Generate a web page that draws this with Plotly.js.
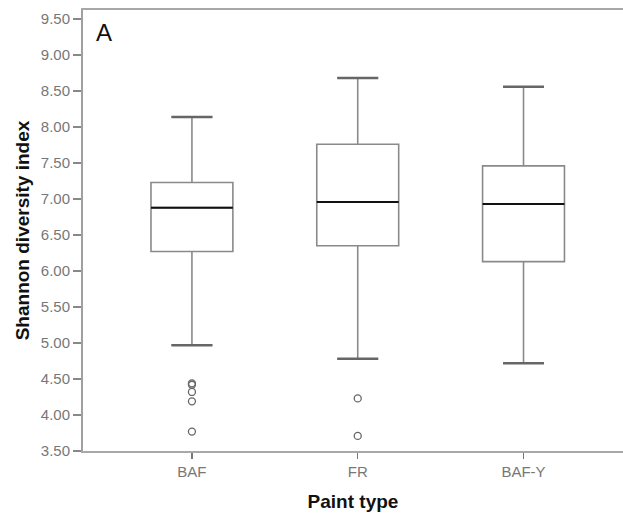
<!DOCTYPE html>
<html>
<head>
<meta charset="utf-8">
<script src="https://cdn.plot.ly/plotly-3.0.1.min.js"></script>
<style>html,body{margin:0;padding:0;background:#fff;}#chart{width:623px;height:527px;}</style>
</head>
<body>
<div id="chart"></div>
<script>
// Data
const categories = ["BAF", "FR", "BAF-Y"];
const positions = [0, 1, 2];
const lowerWhisker = [4.97, 4.78, 4.72];
const q1 = [6.27, 6.35, 6.13];
const median = [6.88, 6.96, 6.93];
const q3 = [7.23, 7.76, 7.46];
const upperWhisker = [8.14, 8.68, 8.56];
const outliersBAF = [4.44, 4.42, 4.32, 4.19, 3.77];
const outliersFR = [4.23, 3.71];
const outliersBAFY = [];
const yTicks = [3.5, 4.0, 4.5, 5.0, 5.5, 6.0, 6.5, 7.0, 7.5, 8.0, 8.5, 9.0, 9.5];

const boxW = 0.494;
const capW = boxW * 0.5;

const font = "Liberation Sans, Arial, sans-serif";
const grey = "#8a8a8a";

const boxTrace = {
  type: "box",
  x: positions,
  q1: q1, median: median, q3: q3,
  lowerfence: lowerWhisker, upperfence: upperWhisker,
  width: boxW,
  whiskerwidth: 0.5,
  boxpoints: false,
  fillcolor: "#ffffff",
  line: {color: grey, width: 1.6},
  hoverinfo: "skip",
  showlegend: false
};

function segs(vals, half) {
  const xs = [], ys = [];
  vals.forEach((v, i) => {
    xs.push(positions[i] - half, positions[i] + half, null);
    ys.push(v, v, null);
  });
  return {xs, ys};
}

const med = segs(median, boxW / 2);
const medianTrace = {
  type: "scatter", mode: "lines", x: med.xs, y: med.ys,
  line: {color: "#111", width: 2}, hoverinfo: "skip", showlegend: false
};

const capsU = segs(upperWhisker, capW / 2);
const capsL = segs(lowerWhisker, capW / 2);
const capTrace = {
  type: "scatter", mode: "lines",
  x: capsU.xs.concat(capsL.xs), y: capsU.ys.concat(capsL.ys),
  line: {color: "#666", width: 2.5}, hoverinfo: "skip", showlegend: false
};

const outX = [], outY = [];
[outliersBAF, outliersFR, outliersBAFY].forEach((arr, i) => {
  arr.forEach(v => { outX.push(positions[i]); outY.push(v); });
});
const outlierTrace = {
  type: "scatter", mode: "markers", x: outX, y: outY,
  marker: {symbol: "circle-open", size: 7, color: "#666", line: {width: 1.3, color: "#666"}},
  hoverinfo: "skip", showlegend: false
};

const layout = {
  width: 623, height: 527,
  margin: {l: 83, r: 0, t: 10, b: 76},
  paper_bgcolor: "#fff", plot_bgcolor: "#fff",
  showlegend: false,
  xaxis: {
    range: [-0.657, 2.6],
    tickvals: positions, ticktext: categories,
    showgrid: false, zeroline: false,
    showline: true, linecolor: "#a8a8a8", linewidth: 2, mirror: true,
    ticks: "outside", ticklen: 6, tickcolor: "#777", tickwidth: 1.3,
    tickfont: {family: font, size: 15, color: "#777"},
    title: {text: "Paint type", font: {family: font, size: 19, color: "#111", weight: "bold"}, standoff: 16}
  },
  yaxis: {
    range: [3.5, 9.625],
    tickvals: yTicks, ticktext: yTicks.map(v => v.toFixed(2)),
    showgrid: false, zeroline: false,
    showline: true, linecolor: "#a0a0a0", linewidth: 2,
    ticks: "outside", ticklen: 8, tickcolor: "#888", tickwidth: 1.5,
    tickfont: {family: font, size: 15, color: "#777"},
    title: {text: "Shannon diversity index", font: {family: font, size: 19, color: "#111", weight: "bold"}, standoff: 6}
  },
  annotations: [{
    text: "A", xref: "paper", yref: "paper", x: 0.02, y: 0.985,
    xanchor: "left", yanchor: "top", showarrow: false,
    font: {family: font, size: 24, color: "#111"}
  }]
};

Plotly.newPlot("chart", [boxTrace, capTrace, medianTrace, outlierTrace], layout, {displayModeBar: false, staticPlot: true});
</script>
</body>
</html>
